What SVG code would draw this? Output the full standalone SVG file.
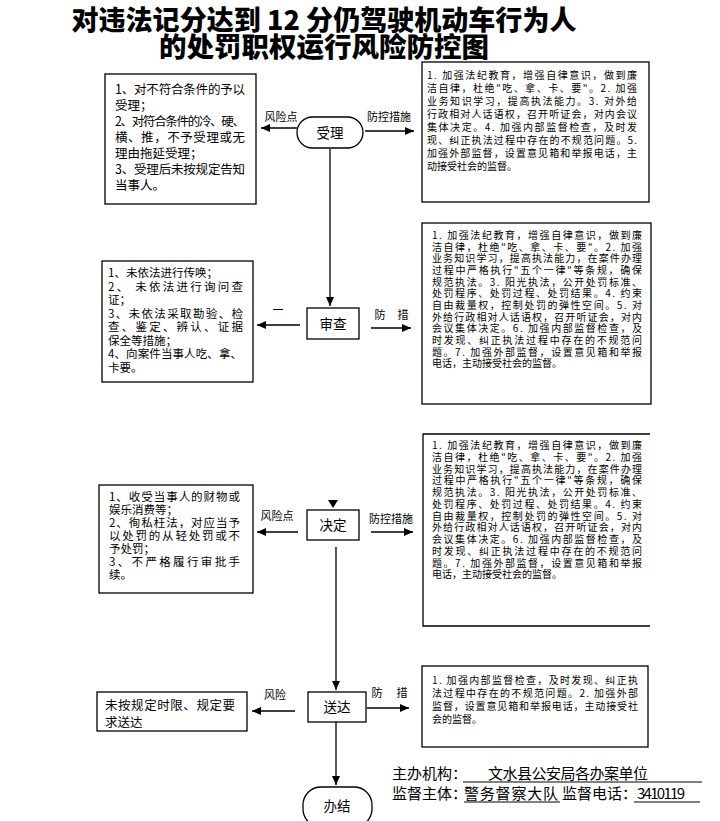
<svg xmlns="http://www.w3.org/2000/svg" width="720" height="821" viewBox="0 0 720 821">
<style>
text{font-family:"Noto Sans CJK SC","Liberation Sans",sans-serif;fill:#000}
.title{font-size:27px;font-weight:900;font-family:"Noto Sans CJK SC","Liberation Serif",serif}
.box{fill:#fff;stroke:#000;stroke-width:1.3}
.lt{font-size:12.5px}
.lt2{font-size:11.5px}
.rt{font-size:10px}
.lbl{font-size:11px}
.node{font-size:13.5px}
.ft{font-size:15px}
.con{stroke:#000;stroke-width:1.3;fill:none}
</style>
<defs>
<marker id="ah" markerUnits="userSpaceOnUse" markerWidth="10" markerHeight="8" refX="9" refY="4" orient="auto">
<path d="M0,0 L9,4 L0,8 Z" fill="#000"/>
</marker>
</defs>
<rect width="720" height="821" fill="#fff"/>

<g id="title">
<text class="title" text-anchor="middle"><tspan x="324" y="30" textLength="505" lengthAdjust="spacingAndGlyphs">对违法记分达到 12 分仍驾驶机动车行为人</tspan><tspan x="324" y="57" textLength="330" lengthAdjust="spacingAndGlyphs">的处罚职权运行风险防控图</tspan></text>
</g>

<g id="connectors">
<line class="con" x1="297" y1="128" x2="261" y2="128" marker-end="url(#ah)"/>
<line class="con" x1="365" y1="131" x2="414" y2="131" marker-end="url(#ah)"/>
<line class="con" x1="330" y1="149" x2="330" y2="306" marker-end="url(#ah)"/>
<line class="con" x1="300" y1="325" x2="257" y2="325" marker-end="url(#ah)"/>
<line class="con" x1="371" y1="328" x2="411" y2="328" marker-end="url(#ah)"/>
<polygon points="328,500 338,500 333,508" fill="#000"/>
<line class="con" x1="298" y1="532" x2="257" y2="532" marker-end="url(#ah)"/>
<line class="con" x1="371" y1="532" x2="413" y2="532" marker-end="url(#ah)"/>
<line class="con" x1="336" y1="547" x2="336" y2="690" marker-end="url(#ah)"/>
<line class="con" x1="295" y1="711" x2="252" y2="711" marker-end="url(#ah)"/>
<line class="con" x1="367" y1="708" x2="409" y2="708" marker-end="url(#ah)"/>
<line class="con" x1="336" y1="722" x2="336" y2="785" marker-end="url(#ah)"/>
<text class="lbl" x="281" y="121" text-anchor="middle">风险点</text>
<text class="lbl" x="389" y="121" text-anchor="middle">防控措施</text>
<text class="lbl" x="278" y="314" text-anchor="middle">一</text>
<text class="lbl" x="380" y="319" text-anchor="middle">防</text>
<text class="lbl" x="403" y="319" text-anchor="middle">措</text>
<text class="lbl" x="277" y="520" text-anchor="middle">风险点</text>
<text class="lbl" x="391" y="523" text-anchor="middle">防控措施</text>
<text class="lbl" x="275" y="699" text-anchor="middle">风险</text>
<text class="lbl" x="377" y="697" text-anchor="middle">防</text>
<text class="lbl" x="402" y="697" text-anchor="middle">措</text>
</g>

<g id="node-shouli">
<rect class="box" x="297" y="117" width="66" height="31" rx="15.5"/>
<text class="node" x="330" y="138" text-anchor="middle">受理</text>
</g>

<g id="risk-shouli">
<rect class="box" x="105" y="74" width="151" height="130"/>
<text class="lt"><tspan x="115" y="94" textLength="130">1、对不符合条件的予以</tspan><tspan x="115" y="110">受理；</tspan><tspan x="115" y="126" textLength="130">2、对符合条件的冷、硬、</tspan><tspan x="115" y="142" textLength="130">横、推，不予受理或无</tspan><tspan x="115" y="158">理由拖延受理；</tspan><tspan x="115" y="174" textLength="130">3、受理后未按规定告知</tspan><tspan x="115" y="190">当事人。</tspan></text>
</g>

<g id="ctrl-shouli">
<rect class="box" x="422" y="62" width="227" height="140"/>
<text class="rt"><tspan x="427" y="79" textLength="210">1. 加强法纪教育，增强自律意识，做到廉</tspan><tspan x="427" y="92" textLength="210">洁自律，杜绝"吃、拿、卡、要"。2. 加强</tspan><tspan x="427" y="105" textLength="210">业务知识学习，提高执法能力。3. 对外给</tspan><tspan x="427" y="118" textLength="210">行政相对人话语权，召开听证会，对内会议</tspan><tspan x="427" y="131" textLength="210">集体决定。4. 加强内部监督检查，及时发</tspan><tspan x="427" y="144" textLength="210">现、纠正执法过程中存在的不规范问题。5.</tspan><tspan x="427" y="157" textLength="210">加强外部监督，设置意见箱和举报电话，主</tspan><tspan x="427" y="170">动接受社会的监督。</tspan></text>
</g>

<g id="node-shencha">
<rect class="box" x="307" y="308" width="52" height="31"/>
<text class="node" x="333" y="329" text-anchor="middle">审查</text>
</g>

<g id="risk-shencha">
<rect class="box" x="102" y="261" width="151" height="121"/>
<text class="lt2"><tspan x="108" y="277">1、未依法进行传唤；</tspan><tspan x="108" y="290.5" textLength="135">2、 未依法进行询问查</tspan><tspan x="108" y="304">证；</tspan><tspan x="108" y="317.5" textLength="135">3、未依法采取勘验、检</tspan><tspan x="108" y="331" textLength="135">查、鉴定、辨认、证据</tspan><tspan x="108" y="344.5">保全等措施；</tspan><tspan x="108" y="358" textLength="134">4、向案件当事人吃、拿、</tspan><tspan x="108" y="371.5">卡要。</tspan></text>
</g>

<g id="ctrl-shencha">
<rect class="box" x="422" y="223" width="229" height="181"/>
<text class="rt"><tspan x="432" y="239" textLength="210">1. 加强法纪教育，增强自律意识，做到廉</tspan><tspan x="432" y="250.7" textLength="210">洁自律，杜绝"吃、拿、卡、要"。2. 加强</tspan><tspan x="432" y="262.4" textLength="210">业务知识学习，提高执法能力，在案件办理</tspan><tspan x="432" y="274" textLength="210">过程中严格执行"五个一律"等条规，确保</tspan><tspan x="432" y="285.7" textLength="210">规范执法。3. 阳光执法，公开处罚标准、</tspan><tspan x="432" y="297.4" textLength="210">处罚程序、处罚过程、处罚结果。4. 约束</tspan><tspan x="432" y="309" textLength="210">自由裁量权，控制处罚的弹性空间。5. 对</tspan><tspan x="432" y="320.7" textLength="210">外给行政相对人话语权，召开听证会，对内</tspan><tspan x="432" y="332.4" textLength="210">会议集体决定。6. 加强内部监督检查，及</tspan><tspan x="432" y="344" textLength="210">时发现、纠正执法过程中存在的不规范问</tspan><tspan x="432" y="355.7" textLength="210">题。7. 加强外部监督，设置意见箱和举报</tspan><tspan x="432" y="367.4">电话，主动接受社会的监督。</tspan></text>
</g>

<g id="node-jueding">
<rect class="box" x="307" y="510" width="52" height="30"/>
<text class="node" x="333" y="530" text-anchor="middle">决定</text>
</g>

<g id="risk-jueding">
<rect class="box" x="99" y="485" width="154" height="108"/>
<text class="lt2"><tspan x="109" y="501" textLength="131">1、收受当事人的财物或</tspan><tspan x="109" y="514">娱乐消费等；</tspan><tspan x="109" y="527" textLength="131">2、徇私枉法，对应当予</tspan><tspan x="109" y="540" textLength="131">以处罚的从轻处罚或不</tspan><tspan x="109" y="553">予处罚；</tspan><tspan x="109" y="566" textLength="131">3、不严格履行审批手</tspan><tspan x="109" y="579">续。</tspan></text>
</g>

<g id="ctrl-jueding">
<path class="box" d="M650,434 L423,434 L423,626 L650,626"/>
<text class="rt"><tspan x="432" y="449" textLength="210">1. 加强法纪教育，增强自律意识，做到廉</tspan><tspan x="432" y="460.8" textLength="210">洁自律，杜绝"吃、拿、卡、要"。2. 加强</tspan><tspan x="432" y="472.5" textLength="210">业务知识学习，提高执法能力，在案件办理</tspan><tspan x="432" y="484.3" textLength="210">过程中严格执行"五个一律"等条规，确保</tspan><tspan x="432" y="496" textLength="210">规范执法。3. 阳光执法，公开处罚标准、</tspan><tspan x="432" y="507.8" textLength="210">处罚程序、处罚过程、处罚结果。4. 约束</tspan><tspan x="432" y="519.5" textLength="210">自由裁量权，控制处罚的弹性空间。5. 对</tspan><tspan x="432" y="531.3" textLength="210">外给行政相对人话语权，召开听证会，对内</tspan><tspan x="432" y="543" textLength="210">会议集体决定。6. 加强内部监督检查，及</tspan><tspan x="432" y="554.8" textLength="210">时发现、纠正执法过程中存在的不规范问</tspan><tspan x="432" y="566.5" textLength="210">题。7. 加强外部监督，设置意见箱和举报</tspan><tspan x="432" y="578.3">电话，主动接受社会的监督。</tspan></text>
</g>

<g id="node-songda">
<rect class="box" x="308" y="692" width="58" height="30"/>
<text class="node" x="337" y="712" text-anchor="middle">送达</text>
</g>

<g id="risk-songda">
<rect class="box" x="97" y="692" width="150" height="39"/>
<text class="lt"><tspan x="105" y="710" textLength="130">未按规定时限、规定要</tspan><tspan x="105" y="727">求送达</tspan></text>
</g>

<g id="ctrl-songda">
<rect class="box" x="422" y="666" width="226" height="81"/>
<text class="rt"><tspan x="432" y="684" textLength="206">1. 加强内部监督检查，及时发现、纠正执</tspan><tspan x="432" y="697" textLength="206">法过程中存在的不规范问题。2. 加强外部</tspan><tspan x="432" y="710" textLength="206">监督，设置意见箱和举报电话，主动接受社</tspan><tspan x="432" y="723">会的监督。</tspan></text>
</g>

<g id="node-banjie">
<rect class="box" x="303" y="787" width="69" height="40" rx="18"/>
<text class="node" x="337" y="811" text-anchor="middle">办结</text>
</g>

<g id="footer">
<text class="ft" x="392" y="779">主办机构：</text>
<text class="ft" x="488" y="779" textLength="160">文水县公安局各办案单位</text>
<line x1="463" y1="782" x2="702" y2="782" stroke="#000" stroke-width="1"/>
<text class="ft" x="392" y="799">监督主体：</text>
<text class="ft" x="464" y="799" textLength="94">警务督察大队</text>
<line x1="464" y1="802" x2="560" y2="802" stroke="#000" stroke-width="1"/>
<text class="ft" x="562" y="799">监督电话：</text>
<text class="ft" x="637" y="799" textLength="48" font-family="Liberation Sans">3410119</text>
<line x1="634" y1="802" x2="700" y2="802" stroke="#000" stroke-width="1"/>
</g>
</svg>
